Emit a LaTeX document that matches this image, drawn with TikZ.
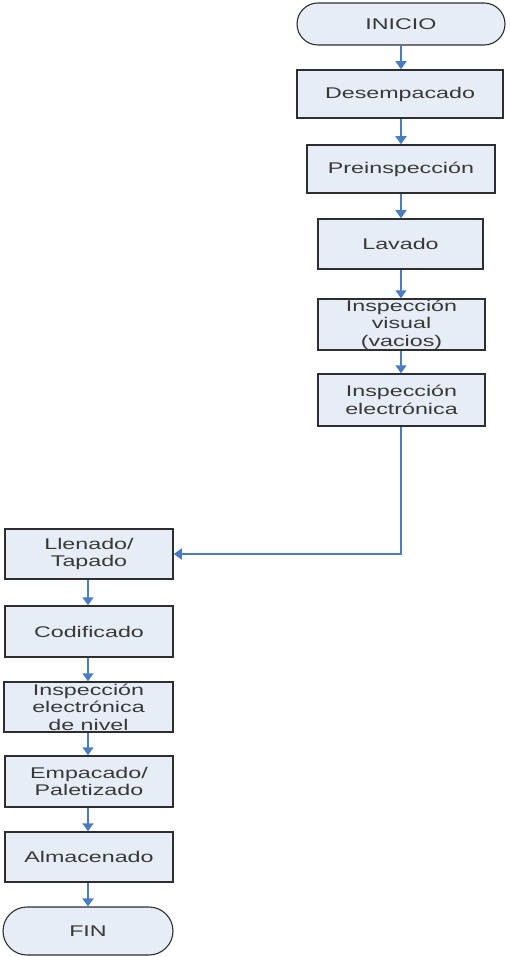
\documentclass[tikz,border=0pt]{standalone}
\usepackage{fontspec}
\setmainfont{Liberation Sans}[FakeStretch=1.5]
\usetikzlibrary{arrows.meta}
\definecolor{boxfill}{HTML}{E7EDF6}
\definecolor{boxline}{HTML}{2E2E2E}
\definecolor{flowblue}{HTML}{4A7CC4}
\definecolor{txt}{HTML}{383838}
\begin{document}
\begin{tikzpicture}[x=1pt,y=-1pt,
  every node/.style={font=\fontsize{15.5}{17.5}\selectfont, text=txt, align=center, inner sep=0pt},
  stepbox/.style={draw=boxline, line width=1.5pt, fill=boxfill},
  term/.style={draw=boxline, line width=1.1pt, fill=boxfill, rounded corners=21pt},
  flow/.style={draw=flowblue, line width=1.6pt, -{Triangle[length=8pt,width=11pt]}}]
\useasboundingbox (0,0) rectangle (509,957);

% right column
\node[term, minimum width=208pt, minimum height=42pt] (inicio) at (401,24) {INICIO};
\node[stepbox, minimum width=206pt, minimum height=48pt] (desemp) at (400,94) {Desempacado};
\node[stepbox, minimum width=188pt, minimum height=48pt] (prein) at (401,169) {Preinspección};
\node[stepbox, minimum width=165pt, minimum height=50pt] (lavado) at (400.5,244) {Lavado};
\node[stepbox, minimum width=167pt, minimum height=51pt] (insvis) at (401.5,324.5) {Inspección\\visual\\(vacios)};
\node[stepbox, minimum width=167pt, minimum height=52pt] (inselec) at (401.5,400) {Inspección\\electrónica};

% left column
\node[stepbox, minimum width=168pt, minimum height=50pt] (llenado) at (89,554) {Llenado/\\Tapado};
\node[stepbox, minimum width=168pt, minimum height=51pt] (codif) at (89,631.5) {Codificado};
\node[stepbox, minimum width=169pt, minimum height=50pt] (insniv) at (88.5,707) {Inspección\\electrónica\\de nivel};
\node[stepbox, minimum width=168pt, minimum height=51pt] (empac) at (89,781.5) {Empacado/\\Paletizado};
\node[stepbox, minimum width=168pt, minimum height=50pt] (almac) at (89,857) {Almacenado};
\node[term, minimum width=170pt, minimum height=48pt, rounded corners=24pt] (fin) at (88,931) {FIN};

% connectors
\draw[flow] (inicio.south -| 401,0) -- (desemp.north -| 401,0);
\draw[flow] (desemp.south -| 401,0) -- (prein.north -| 401,0);
\draw[flow] (prein.south -| 401,0) -- (lavado.north -| 401,0);
\draw[flow] (lavado.south -| 401,0) -- (insvis.north -| 401,0);
\draw[flow] (insvis.south -| 401,0) -- (inselec.north -| 401,0);
\draw[flow] (inselec.south -| 401,0) |- (llenado.east);
\draw[flow] (llenado.south -| 88,0) -- (codif.north -| 88,0);
\draw[flow] (codif.south -| 88,0) -- (insniv.north -| 88,0);
\draw[flow] (insniv.south -| 88,0) -- (empac.north -| 88,0);
\draw[flow] (empac.south -| 88,0) -- (almac.north -| 88,0);
\draw[flow] (almac.south -| 88,0) -- (fin.north -| 88,0);
\end{tikzpicture}
\end{document}
